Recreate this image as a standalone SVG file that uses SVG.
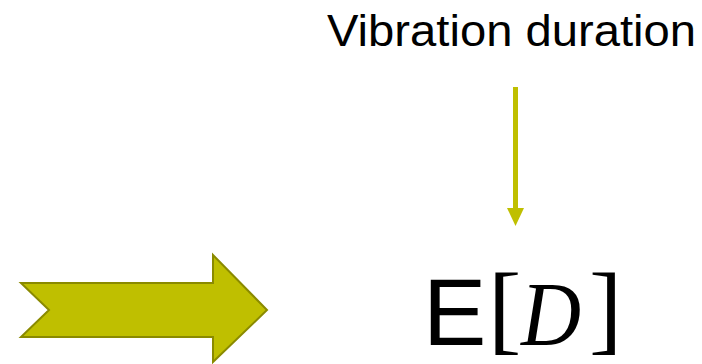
<svg xmlns="http://www.w3.org/2000/svg" width="702" height="364" viewBox="0 0 702 364">
<style>
.lbl{font-family:"Liberation Sans",Arial,sans-serif;fill:#000}
.math{font-family:"Liberation Serif","Times New Roman",serif;fill:#000}
</style>
<rect width="702" height="364" fill="#fff"/>
<g id="connectors">
<line x1="515.5" y1="87" x2="515.5" y2="210" stroke="#BFBF00" stroke-width="5"/>
<polygon points="507,208 524,208 515.5,226" fill="#BFBF00"/>
</g>
<g id="blockArrow">
<polygon points="21,283 213,283 213,255 267,310 213,362 213,337 21,337 49,310" fill="#BFBF00" stroke="#8A8A00" stroke-width="2" stroke-linejoin="miter"/>
</g>
<g id="label">
<text class="lbl" x="327" y="46" font-size="45" textLength="369" lengthAdjust="spacingAndGlyphs">Vibration duration</text>
</g>
<g id="expectation">
<text class="lbl" x="423" y="345" font-size="95">E</text>
<text class="math" x="488" y="342" font-size="100">[</text>
<text class="math" x="521" y="345" font-size="92" font-style="italic" textLength="60" lengthAdjust="spacingAndGlyphs">D</text>
<text class="math" x="589" y="342" font-size="100">]</text>
</g>
</svg>
